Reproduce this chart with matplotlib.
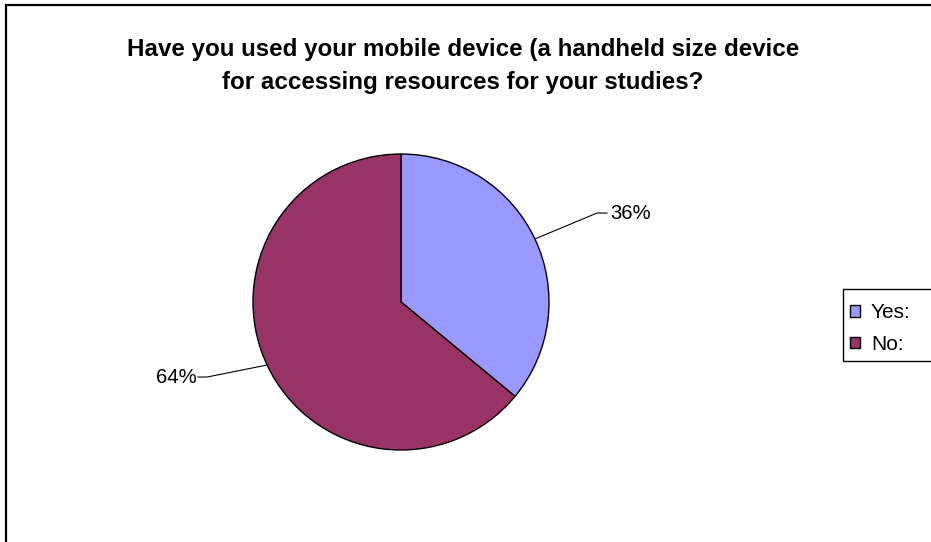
import matplotlib
matplotlib.use("Agg")
import matplotlib.pyplot as plt
from matplotlib.patches import Rectangle
import numpy as np

plt.rcParams['font.family'] = ['Liberation Sans', 'DejaVu Sans']

categories = ["Yes:", "No:"]
values = [36, 64]
colors = ["#9999FF", "#993366"]
title = "Have you used your mobile device (a handheld size device\nfor accessing resources for your studies?"

W, H = 931, 542
fig = plt.figure(figsize=(W / 100, H / 100), dpi=100)

def fx(px):
    return px / W

def fy(py):
    return 1 - py / H

# outer chart frame (extends past right/bottom edges)
fig.patches.append(Rectangle((fx(6), fy(560)), fx(960) - fx(6), fy(5) - fy(560),
                             transform=fig.transFigure, fill=False, edgecolor="black",
                             linewidth=1.6))

fig.text(fx(463), fy(66), title, ha="center", va="center", fontsize=17.4,
         fontweight="bold", linespacing=1.55)

cx, cy, r = 401, 302, 148
ax = fig.add_axes([fx(cx - r), fy(cy + r), (2 * r) / W, (2 * r) / H])
wedges, _ = ax.pie(values, colors=colors, startangle=90, counterclock=False,
                   wedgeprops=dict(edgecolor="black", linewidth=1.0))
ax.set_xlim(-1, 1)
ax.set_ylim(-1, 1)
ax.set_aspect("equal")
ax.axis("off")

# data labels with leader lines (elbow point, end of horizontal tick)
total = sum(values)
start = 90.0
leaders = [((1.324, 0.601), 1.392), ((-1.311, -0.507), -1.372)]
for v, (elbow, end) in zip(values, leaders):
    span = 360.0 * v / total
    mid = np.deg2rad(start - span / 2)
    start -= span
    ex, ey = np.cos(mid), np.sin(mid)
    bx, by = elbow
    ax.plot([ex, bx, end], [ey, by, by], color="black", linewidth=0.8,
            clip_on=False, solid_joinstyle="miter")
    ha = "left" if end > 0 else "right"
    tx = end + (0.02 if end > 0 else -0.006)
    ax.text(tx, by, f"{round(100 * v / total)}%", ha=ha, va="center", fontsize=14.6)

# legend
fig.patches.append(Rectangle((fx(843), fy(361)), fx(960) - fx(843), fy(289) - fy(361),
                             transform=fig.transFigure, fill=False, edgecolor="black",
                             linewidth=1.0))
leg = fig.legend(wedges, categories, loc="upper left",
                 bbox_to_anchor=(fx(850), fy(303)), frameon=False, fontsize=15,
                 handlelength=0.5, handleheight=0.5, handletextpad=0.5,
                 labelspacing=0.62, borderaxespad=0, borderpad=0)

fig.savefig("out.png", dpi=100, facecolor="white")
